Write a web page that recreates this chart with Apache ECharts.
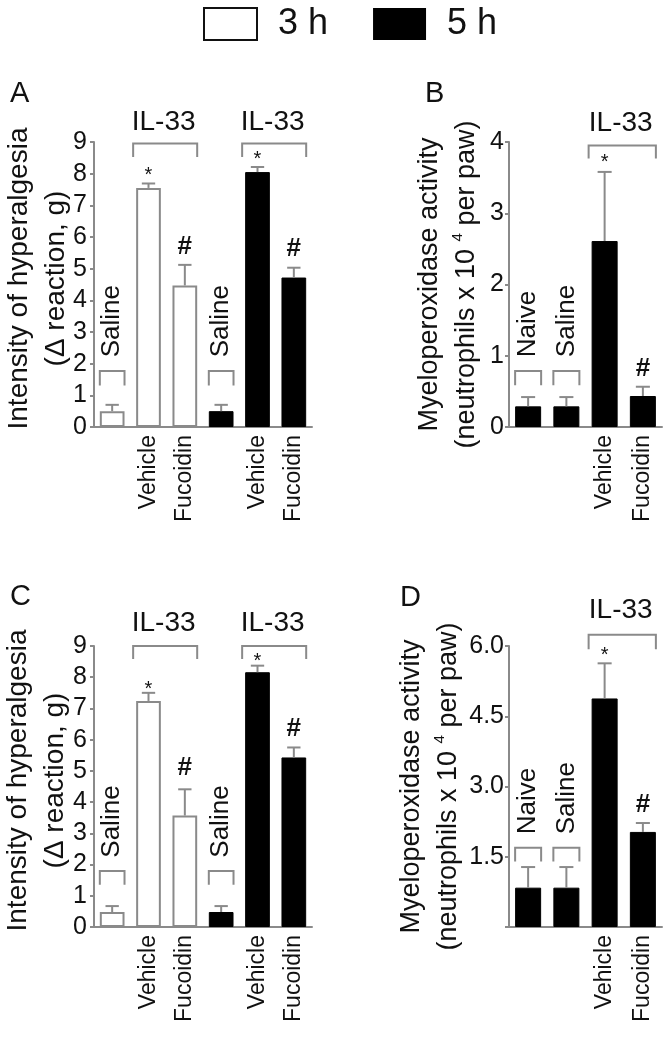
<!DOCTYPE html>
<html><head><meta charset="utf-8">
<script src="https://cdn.jsdelivr.net/npm/echarts@6/dist/echarts.min.js"></script>
<style>html,body{margin:0;padding:0;background:#fff}#c{width:670px;height:1048px}</style>
</head><body><div id="c"></div>
<script>
const FONT = '"Liberation Sans", Arial, Helvetica, sans-serif';
const GRAY = '#8a8a8a';
const INK = '#111111';

// ---------- data ----------
const hyperCats = ['Saline 3 h', 'Vehicle 3 h', 'Fucoidin 3 h', 'Saline 5 h', 'Vehicle 5 h', 'Fucoidin 5 h'];
const hyperTickLabels = ['', 'Vehicle', 'Fucoidin', '', 'Vehicle', 'Fucoidin'];
const mpoCats = ['Naive', 'Saline', 'Vehicle', 'Fucoidin'];
const mpoTickLabels = ['', '', 'Vehicle', 'Fucoidin'];
const legendNames = ['3 h', '5 h'];

// Panel A (hyperalgesia, experiment 1)
const a3hMean = [0.50, 7.55, 4.47];
const a3hErr = [0.20, 0.14, 0.65];
const a5hMean = [0.50, 8.05, 4.72];
const a5hErr = [0.20, 0.16, 0.31];
// Panel B (MPO, experiment 1)
const bMean = [0.29, 0.29, 2.61, 0.435];
const bErr = [0.13, 0.13, 0.97, 0.13];
// Panel C (hyperalgesia, experiment 2)
const c3hMean = [0.48, 7.24, 3.57];
const c3hErr = [0.19, 0.26, 0.84];
const c5hMean = [0.48, 8.16, 5.43];
const c5hErr = [0.19, 0.21, 0.32];
// Panel D (MPO, experiment 2)
const dMean = [0.84, 0.84, 4.88, 2.03];
const dErr = [0.44, 0.44, 0.75, 0.19];

// annotations: [category, value, text]
const aGroupLabels = [[0, 2.2, 'Saline'], [3, 2.2, 'Saline']];
const aBrackets = [[0, 0, 1.77, 1.31], [3, 3, 1.77, 1.31], [1, 2, 8.95, 8.53], [4, 5, 8.95, 8.53]];
const aHeads = [[1, 2, 9.63, 'IL-33'], [4, 5, 9.63, 'IL-33']];
const aMarks = [[1, 8.1, '*'], [2, 5.7, '#'], [4, 8.62, '*'], [5, 5.64, '#']];

const bGroupLabels = [[0, 0.98, 'Naive'], [1, 0.98, 'Saline']];
const bBrackets = [[0, 0, 0.785, 0.585], [1, 1, 0.785, 0.585], [2, 3, 3.95, 3.77]];
const bHeads = [[2, 3, 4.26, 'IL-33']];
const bMarks = [[2, 3.78, '*'], [3, 0.81, '#']];

const cGroupLabels = [[0, 2.22, 'Saline'], [3, 2.22, 'Saline']];
const cBrackets = [[0, 0, 1.79, 1.35], [3, 3, 1.79, 1.35], [1, 2, 9.0, 8.58], [4, 5, 9.0, 8.58]];
const cHeads = [[1, 2, 9.73, 'IL-33'], [4, 5, 9.73, 'IL-33']];
const cMarks = [[1, 7.78, '*'], [2, 5.11, '#'], [4, 8.68, '*'], [5, 6.34, '#']];

const dGroupLabels = [[0, 1.98, 'Naive'], [1, 1.98, 'Saline']];
const dBrackets = [[0, 0, 1.69, 1.40], [1, 1, 1.69, 1.40], [2, 3, 6.24, 5.93]];
const dHeads = [[2, 3, 6.76, 'IL-33']];
const dMarks = [[2, 5.91, '*'], [3, 2.60, '#']];

const panelLetters = ['A', 'B', 'C', 'D'];

// ---------- builders ----------
const BAR_FRAC = 0.68;
const blank = n => Array(n).fill('-');

function xAxisFor(i, cats, labels) {
  return {
    type: 'category', gridIndex: i, data: cats,
    axisLine: { lineStyle: { color: GRAY, width: 2 } },
    axisTick: { show: false },
    axisLabel: {
      interval: 0, rotate: 90, margin: 8, fontSize: 23, color: INK, fontFamily: FONT,
      formatter: (v, idx) => labels[idx]
    }
  };
}
function yAxisFor(i, min, max, interval, name, nameGap, nameStyle, fmt, labelMargin) {
  return {
    type: 'value', gridIndex: i, min, max, interval,
    name, nameLocation: 'middle', nameGap, nameMoveOverlap: false,
    nameTextStyle: nameStyle,
    splitLine: { show: false },
    axisLine: { show: true, lineStyle: { color: GRAY, width: 2 } },
    axisTick: { show: true, length: 4, lineStyle: { color: GRAY, width: 2 } },
    axisLabel: { fontSize: 25, color: INK, fontFamily: FONT, margin: labelMargin, formatter: fmt }
  };
}
function barSeries(i, name, data, white) {
  return {
    type: 'bar', name, xAxisIndex: i, yAxisIndex: i, data,
    barWidth: (BAR_FRAC * 100) + '%', barGap: '-100%', silent: true,
    itemStyle: white ? { color: '#ffffff', borderColor: GRAY, borderWidth: 2 } : { color: '#000000', borderColor: '#000', borderWidth: 1 }
  };
}
function errSeries(i, means, errs, offset) {
  return {
    type: 'custom', xAxisIndex: i, yAxisIndex: i, z: 3, silent: true,
    data: means.map((m, k) => [k + offset, m, errs[k]]),
    renderItem(params, api) {
      const x = api.value(0), m = api.value(1), e = api.value(2);
      const p0 = api.coord([x, m]), p1 = api.coord([x, m + e]);
      const half = api.size([1, 0])[0] * BAR_FRAC * 0.27;
      const st = { stroke: GRAY, lineWidth: 2 };
      return { type: 'group', children: [
        { type: 'line', shape: { x1: p0[0], y1: p0[1], x2: p1[0], y2: p1[1] }, style: st },
        { type: 'line', shape: { x1: p1[0] - half, y1: p1[1], x2: p1[0] + half, y2: p1[1] }, style: st }
      ] };
    }
  };
}
function bracketSeries(i, items) {
  return {
    type: 'custom', xAxisIndex: i, yAxisIndex: i, z: 3, silent: true,
    data: items.map(b => [b[0], b[2]]),
    renderItem(params, api) {
      const b = items[params.dataIndex];
      const bw = api.size([1, 0])[0] * BAR_FRAC;
      const xl = api.coord([b[0], 0])[0] - bw / 2 - (b[0] === b[1] ? 0 : 3);
      const xr = api.coord([b[1], 0])[0] + bw / 2;
      const yt = api.coord([b[0], b[2]])[1], yl = api.coord([b[0], b[3]])[1];
      return { type: 'polyline', shape: { points: [[xl, yl], [xl, yt], [xr, yt], [xr, yl]] },
        style: { stroke: GRAY, lineWidth: 2, fill: null } };
    }
  };
}
function textSeries(i, groupLabels, heads, marks) {
  const items = [];
  groupLabels.forEach(g => items.push({ k: 'vert', a: g[0], b: g[0], v: g[1], t: g[2] }));
  heads.forEach(g => items.push({ k: 'head', a: g[0], b: g[1], v: g[2], t: g[3] }));
  marks.forEach(g => items.push({ k: g[2] === '*' ? 'star' : 'hash', a: g[0], b: g[0], v: g[1], t: g[2] }));
  return {
    type: 'custom', xAxisIndex: i, yAxisIndex: i, z: 4, silent: true,
    data: items.map(it => [it.a, it.v]),
    renderItem(params, api) {
      const it = items[params.dataIndex];
      let x = (api.coord([it.a, 0])[0] + api.coord([it.b, 0])[0]) / 2;
      const y = api.coord([it.a, it.v])[1];
      if (it.k === 'vert') {
        return { type: 'text', x, y, rotation: Math.PI / 2,
          style: { text: it.t, x: 0, y: 0, align: 'left', verticalAlign: 'middle', fontSize: 26, fill: INK, fontFamily: FONT } };
      }
      if (it.k === 'head') {
        return { type: 'text', x: x - 3, y,
          style: { text: it.t, x: 0, y: 0, align: 'center', verticalAlign: 'middle', fontSize: 28, fill: INK, fontFamily: FONT } };
      }
      if (it.k === 'star') {
        return { type: 'text', x, y: y + 5,
          style: { text: it.t, x: 0, y: 0, align: 'center', verticalAlign: 'middle', fontSize: 20, fill: INK, fontFamily: FONT } };
      }
      return { type: 'text', x, y,
        style: { text: it.t, x: 0, y: 0, align: 'center', verticalAlign: 'middle', fontSize: 26, fontWeight: 'bold', fill: INK, fontFamily: FONT } };
    }
  };
}

const hyperName = 'Intensity of hyperalgesia\n(Δ reaction, g)';
const hyperNameStyle = { fontSize: 28, lineHeight: 37, color: INK, fontFamily: FONT, padding: [0, 0, 0, 12] };
const mpoName = '{t|Myeloperoxidase activity}\n{t|(neutrophils x 10 }{s|4}{t| per paw)}';
const mpoNameStyle = {
  fontSize: 27, lineHeight: 37, color: INK, fontFamily: FONT,
  rich: {
    t: { fontSize: 27, lineHeight: 37, color: INK, fontFamily: FONT },
    s: { fontSize: 15, lineHeight: 37, color: INK, fontFamily: FONT, verticalAlign: 'top', padding: [2, 0, 0, 0] }
  }
};

const option = {
  animation: false,
  backgroundColor: '#ffffff',
  title: panelLetters.map((t, k) => ({
    text: t, padding: 0,
    left: [10, 425, 10, 400][k], top: [79, 79, 582, 583][k],
    textStyle: { fontSize: 29, fontWeight: 'normal', color: INK, fontFamily: FONT }
  })),
  legend: {
    top: 6, left: 203, padding: 0, itemWidth: 53, itemHeight: 32, itemGap: 45, selectedMode: false,
    data: [
      { name: legendNames[0], icon: 'rect', itemStyle: { color: '#ffffff', borderColor: '#111', borderWidth: 2 } },
      { name: legendNames[1], icon: 'rect', itemStyle: { color: '#000000', borderWidth: 0 } }
    ],
    textStyle: { fontSize: 36, color: INK, fontFamily: FONT, padding: [0, 0, 0, 16] }
  },
  grid: [
    { left: 94, top: 142, width: 218, height: 285, outerBoundsMode: 'none' },
    { left: 509, top: 142, width: 153, height: 285, outerBoundsMode: 'none' },
    { left: 94, top: 646, width: 218, height: 281, outerBoundsMode: 'none' },
    { left: 509, top: 646, width: 153, height: 281, outerBoundsMode: 'none' }
  ],
  xAxis: [
    xAxisFor(0, hyperCats, hyperTickLabels),
    xAxisFor(1, mpoCats, mpoTickLabels),
    xAxisFor(2, hyperCats, hyperTickLabels),
    xAxisFor(3, mpoCats, mpoTickLabels)
  ],
  yAxis: [
    yAxisFor(0, 0, 9, 1, hyperName, 19, hyperNameStyle, v => String(v), 7),
    yAxisFor(1, 0, 4, 1, mpoName, 24, mpoNameStyle, v => String(v), 5),
    yAxisFor(2, 0, 9, 1, hyperName, 20, hyperNameStyle, v => String(v), 7),
    yAxisFor(3, 0, 6, 1.5, mpoName, 42, mpoNameStyle, v => (v === 0 ? '' : v.toFixed(1)), 5)
  ],
  series: [
    barSeries(0, legendNames[0], a3hMean.concat(blank(3)), true),
    barSeries(0, legendNames[1], blank(3).concat(a5hMean), false),
    errSeries(0, a3hMean, a3hErr, 0),
    errSeries(0, a5hMean, a5hErr, 3),
    bracketSeries(0, aBrackets),
    textSeries(0, aGroupLabels, aHeads, aMarks),

    barSeries(1, legendNames[1], bMean, false),
    errSeries(1, bMean, bErr, 0),
    bracketSeries(1, bBrackets),
    textSeries(1, bGroupLabels, bHeads, bMarks),

    barSeries(2, legendNames[0], c3hMean.concat(blank(3)), true),
    barSeries(2, legendNames[1], blank(3).concat(c5hMean), false),
    errSeries(2, c3hMean, c3hErr, 0),
    errSeries(2, c5hMean, c5hErr, 3),
    bracketSeries(2, cBrackets),
    textSeries(2, cGroupLabels, cHeads, cMarks),

    barSeries(3, legendNames[1], dMean, false),
    errSeries(3, dMean, dErr, 0),
    bracketSeries(3, dBrackets),
    textSeries(3, dGroupLabels, dHeads, dMarks)
  ]
};

const chart = echarts.init(document.getElementById('c'), null, { renderer: 'canvas' });
chart.setOption(option);
</script>
</body></html>
